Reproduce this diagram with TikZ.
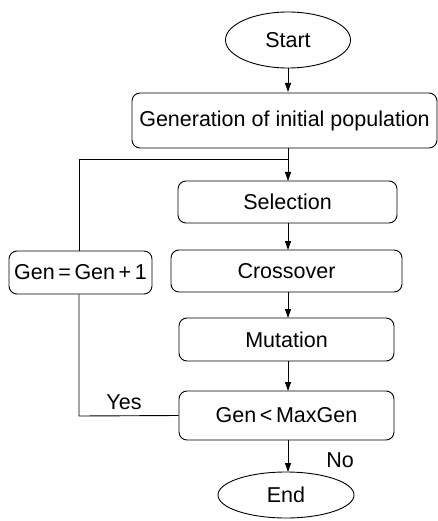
\documentclass[tikz,border=0pt]{standalone}
\usepackage{fontspec}
\setmainfont{Liberation Sans}
\usetikzlibrary{shapes.geometric,arrows.meta}
\begin{document}
\begin{tikzpicture}[x=1pt,y=-1pt,
  box/.style={draw,rounded corners=8pt,line width=0.9pt,minimum height=#1,inner sep=0pt,font=\fontsize{21.5}{24}\selectfont},
  oval/.style={draw,ellipse,line width=0.9pt,inner sep=0pt,font=\fontsize{21.5}{24}\selectfont},
  arr/.style={line width=0.9pt,-{Triangle[length=9pt,width=6pt]}},
  ln/.style={line width=0.9pt},
  lbl/.style={font=\fontsize{21.5}{24}\selectfont}]
\useasboundingbox (0,0) rectangle (438,521);
\node[oval,minimum width=125pt,minimum height=56pt] (start) at (288,40) {Start};
\node[box=55pt,minimum width=305pt] (init) at (284.5,120.5) {Generation of initial population};
\node[box=42pt,minimum width=219pt] (sel) at (287.5,202) {Selection};
\node[box=42pt,minimum width=231pt] (cross) at (286.5,271) {Crossover};
\node[box=43pt,minimum width=215pt] (mut) at (286.5,339.5) {Mutation};
\node[box=49pt,minimum width=215pt] (cond) at (286.5,415.5) {Gen\,<\,MaxGen};
\node[oval,minimum width=136pt,minimum height=46pt] (end) at (286,495) {End};
\node[box=43pt,minimum width=143pt] (inc) at (80.5,272.5) {Gen\,=\,Gen\,+\,1};
\coordinate (join) at (288,159);
\coordinate (tl) at (79,159);
\coordinate (bl) at (79,416);
\draw[arr] (288,68) -- (288,92);
\draw[ln] (288,148) -- (join);
\draw[arr] (join) -- (288,181);
\draw[arr] (288,223) -- (288,250);
\draw[arr] (288,292) -- (288,318);
\draw[arr] (288,361) -- (288,391);
\draw[arr] (288,440) -- (288,472);
\draw[ln] (cond.west) -- (bl) -- (inc.south -| bl);
\draw[ln] (inc.north -| tl) -- (tl) -- (join);
\node[lbl] (yes) at (124,402) {Yes};
\node[lbl] (no) at (340,460) {No};
\end{tikzpicture}
\end{document}
